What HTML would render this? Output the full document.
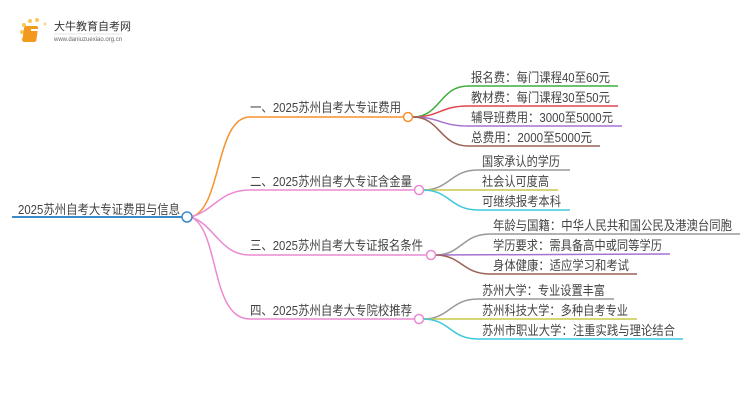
<!DOCTYPE html>
<html><head><meta charset="utf-8"><style>
body{margin:0;width:750px;height:410px;background:#fff;overflow:hidden}
svg text{font-family:"Liberation Sans","Noto Sans CJK SC",sans-serif;fill:#444;font-size:13px}
</style></head><body>
<svg width="750" height="410" xmlns="http://www.w3.org/2000/svg">
<g>
<circle cx="24" cy="25" r="2" fill="#f7c75a"/><circle cx="30" cy="21" r="2" fill="#f7c75a"/><circle cx="37" cy="20" r="2" fill="#f7c75a"/><circle cx="22" cy="32" r="2" fill="#f7c75a"/><circle cx="23" cy="39" r="1.5" fill="#f9d890"/><circle cx="45" cy="24" r="1.5" fill="#f9d890"/>
<rect x="28" y="26" width="14" height="16" rx="2" fill="#f19a1d" transform="skewX(-8)"/>
<rect x="31" y="29" width="8" height="2" fill="#fff"/>
<text x="54" y="30" style="font-size:11px;fill:#333">大牛教育自考网</text>
<line x1="54" y1="34" x2="122" y2="34" stroke="#ccc" stroke-width="0.6"/>
<text x="54" y="41" style="font-size:6px;fill:#666">www.daniuzuexiao.org.cn</text>
</g>
<g fill="none" stroke-width="1.5">
<line x1="12" y1="217" x2="183" y2="217" stroke="#3d8ac8" stroke-width="2"/>
<path d="M191,217 C222,210 215,117 250,117 L404,117" stroke="#f7922e"/>
<path d="M191,217 C215,210 220,190 250,190 L414,190" stroke="#ea8ad2"/>
<path d="M191,217 C215,225 220,255 250,255 L426,255" stroke="#ea8ad2"/>
<path d="M191,217 C220,230 210,319 250,319 L414,319" stroke="#ea8ad2"/>
<path d="M413,117 C440,117 440,86 468,86 L618,86" stroke="#3daf3d"/>
<path d="M413,117 C440,117 440,106 468,106 L618,106" stroke="#e0464e"/>
<path d="M413,117 C440,117 440,126 468,126 L622,126" stroke="#a572d0"/>
<path d="M413,117 C440,117 440,146 468,146 L600,146" stroke="#9a6256"/>
<path d="M423,190 C450,190 450,170 478,170 L570,170" stroke="#999"/>
<path d="M423,190 L558,190" stroke="#c8c84a"/>
<path d="M423,190 C450,190 450,210 478,210 L570,210" stroke="#3ec8dc"/>
<path d="M435,255 C462,255 462,234 490,234 L740,234" stroke="#999"/>
<path d="M435,255 L670,254" stroke="#a572d0"/>
<path d="M435,255 C462,255 462,274 490,274 L637,274" stroke="#9a6256"/>
<path d="M423,319 C450,319 450,299 478,299 L614,299" stroke="#999"/>
<path d="M423,319 L637,319" stroke="#c8c84a"/>
<path d="M423,319 C450,319 450,339 478,339 L683,339" stroke="#3ec8dc"/>
</g>
<g fill="#fff" stroke-width="1.5">
<circle cx="187" cy="217" r="5" stroke="#3d8ac8"/>
<circle cx="408" cy="117" r="4.5" stroke="#f7922e"/>
<circle cx="419" cy="190" r="4.5" stroke="#ea8ad2"/>
<circle cx="431" cy="255" r="4.5" stroke="#ea8ad2"/>
<circle cx="419" cy="319" r="4.5" stroke="#ea8ad2"/>
</g>
<g lengthAdjust="spacingAndGlyphs">
<text x="18" y="214" textLength="162" lengthAdjust="spacingAndGlyphs">2025苏州自考大专证费用与信息</text>
<text x="250" y="112" textLength="151" lengthAdjust="spacingAndGlyphs">一、2025苏州自考大专证费用</text>
<text x="250" y="186" textLength="162" lengthAdjust="spacingAndGlyphs">二、2025苏州自考大专证含金量</text>
<text x="250" y="250" textLength="173" lengthAdjust="spacingAndGlyphs">三、2025苏州自考大专证报名条件</text>
<text x="250" y="315" textLength="162" lengthAdjust="spacingAndGlyphs">四、2025苏州自考大专院校推荐</text>
<text x="471" y="82" textLength="139" lengthAdjust="spacingAndGlyphs">报名费：每门课程40至60元</text>
<text x="471" y="102" textLength="139" lengthAdjust="spacingAndGlyphs">教材费：每门课程30至50元</text>
<text x="471" y="122" textLength="142" lengthAdjust="spacingAndGlyphs">辅导班费用：3000至5000元</text>
<text x="471" y="142" textLength="121" lengthAdjust="spacingAndGlyphs">总费用：2000至5000元</text>
<text x="482" y="166" textLength="78" lengthAdjust="spacingAndGlyphs">国家承认的学历</text>
<text x="482" y="186" textLength="67" lengthAdjust="spacingAndGlyphs">社会认可度高</text>
<text x="482" y="206" textLength="79" lengthAdjust="spacingAndGlyphs">可继续报考本科</text>
<text x="493" y="230" textLength="239" lengthAdjust="spacingAndGlyphs">年龄与国籍：中华人民共和国公民及港澳台同胞</text>
<text x="493" y="250" textLength="169" lengthAdjust="spacingAndGlyphs">学历要求：需具备高中或同等学历</text>
<text x="493" y="270" textLength="136" lengthAdjust="spacingAndGlyphs">身体健康：适应学习和考试</text>
<text x="482" y="295" textLength="123" lengthAdjust="spacingAndGlyphs">苏州大学：专业设置丰富</text>
<text x="482" y="315" textLength="146" lengthAdjust="spacingAndGlyphs">苏州科技大学：多种自考专业</text>
<text x="482" y="335" textLength="193" lengthAdjust="spacingAndGlyphs">苏州市职业大学：注重实践与理论结合</text>
</g>
</svg>
</body></html>
